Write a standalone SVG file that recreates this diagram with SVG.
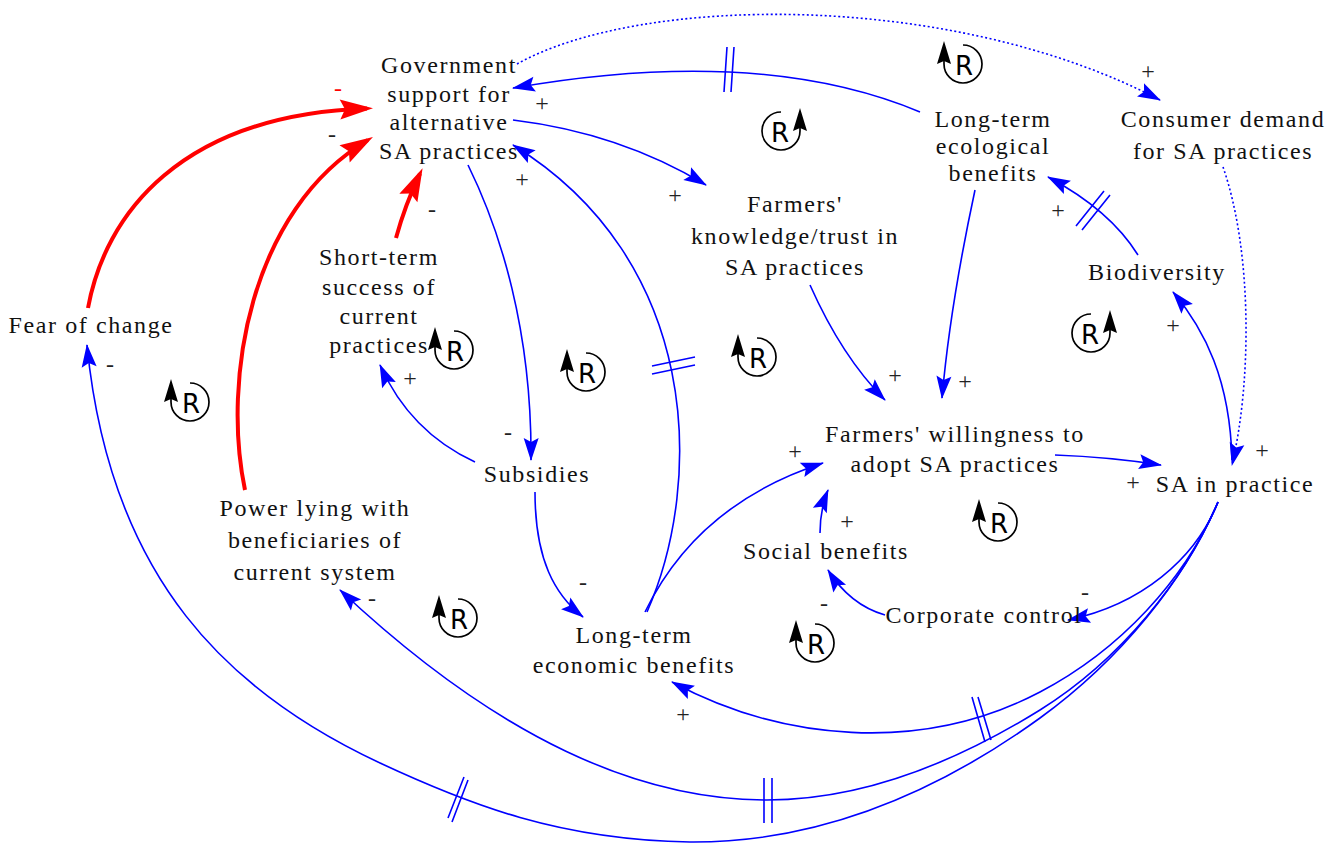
<svg xmlns="http://www.w3.org/2000/svg" width="1343" height="843" viewBox="0 0 1343 843">
<style>
.nt{font-family:"Liberation Serif","Times New Roman",serif;font-size:24px;fill:#111;text-anchor:middle;letter-spacing:1.6px}
.pl{font-family:"Liberation Serif","Times New Roman",serif;font-size:24px;fill:#222;text-anchor:middle}
.ln{fill:none;stroke:#0000ff;stroke-width:1.6}
.rd{fill:none;stroke:#ff0000;stroke-width:4}
.dt{fill:none;stroke:#0000ff;stroke-width:1.6;stroke-dasharray:2 2.5}
.dl{stroke:#0000ff;stroke-width:1.6;fill:none}
.lp{fill:none;stroke:#000;stroke-width:1.7}
.lr{font-family:"DejaVu Sans",sans-serif;font-size:26px;fill:#000;text-anchor:middle}
</style>
<defs>
<marker id="ab" markerUnits="userSpaceOnUse" markerWidth="30" markerHeight="20" refX="0" refY="0" orient="auto" overflow="visible">
<path d="M1,0 L-22,-7.5 L-18,0 L-22,7.5 Z" fill="#0000ff"/>
</marker>
<marker id="ar" markerUnits="userSpaceOnUse" markerWidth="40" markerHeight="30" refX="0" refY="0" orient="auto" overflow="visible">
<path d="M6,0 L-27,-10 L-22,0 L-27,10 Z" fill="#ff0000"/>
</marker>
<g id="loopL">
<path class="lp" d="M0,-19 A19,19 0 1,1 -19,0 L-19,-4"/>
<path d="M-19,-23 L-26,0 L-19,-3 L-12,0 Z" fill="#000"/>
<text class="lr" x="1" y="11">R</text>
</g>
<g id="loopR">
<path class="lp" d="M0,-19 A19,19 0 1,0 19,0 L19,-4"/>
<path d="M19,-23 L12,0 L19,-3 L26,0 Z" fill="#000"/>
<text class="lr" x="-1" y="11">R</text>
</g>
</defs>
<rect width="1343" height="843" fill="#fff"/>

<g id="connectors">
<path class="rd" marker-end="url(#ar)" d="M88,308 C105,215 180,115 367,108.5"/>
<path class="rd" marker-end="url(#ar)" d="M245,490 C222,380 250,210 367.8,140.1"/>
<path class="rd" marker-end="url(#ar)" d="M396,238 Q405,205 420,173.6"/>
<path class="ln" marker-end="url(#ab)" d="M513,120 Q620,133 706,185"/>
<path class="ln" marker-end="url(#ab)" d="M920,112 Q760,45 513,88"/>
<path class="ln" marker-end="url(#ab)" d="M468,165 C500,230 532,330 531,460"/>
<path class="ln" marker-end="url(#ab)" d="M647,612 C705,480 700,260 513,145"/>
<path class="ln" marker-end="url(#ab)" d="M475,462 Q410,432 380,365"/>
<path class="ln" marker-end="url(#ab)" d="M535,492 C535,560 555,595 583,617"/>
<path class="ln" marker-end="url(#ab)" d="M645,612 C680,540 740,490 823,463"/>
<path class="ln" marker-end="url(#ab)" d="M810,285 C830,330 855,370 885,400"/>
<path class="ln" marker-end="url(#ab)" d="M975,190 C960,260 948,330 942,398"/>
<path class="ln" marker-end="url(#ab)" d="M1138,255 Q1110,210 1048,177"/>
<path class="ln" marker-end="url(#ab)" d="M1232,460 C1230,380 1205,330 1173,292"/>
<path class="dt" marker-end="url(#ab)" d="M517,64 C640,-5 950,-10 1160,100"/>
<path class="dt" marker-end="url(#ab)" d="M1223,167 C1252,250 1252,380 1232,465"/>
<path class="ln" marker-end="url(#ab)" d="M1055,455 Q1110,457 1161,465"/>
<path class="ln" marker-end="url(#ab)" d="M1218,502 C1195,560 1140,605 1068,620"/>
<path class="ln" marker-end="url(#ab)" d="M885,615 Q850,605 828,570"/>
<path class="ln" marker-end="url(#ab)" d="M820,533 Q820,510 828,490"/>
<path class="ln" marker-end="url(#ab)" d="M1218,502 C1185,580 1120,650 1040,692 C920,755 780,740 672,682"/>
<path class="ln" marker-end="url(#ab)" d="M1218,502 C1185,580 1120,660 1040,710 C940,772 850,800 767,800 C640,800 500,740 340,590"/>
<path class="ln" marker-end="url(#ab)" d="M1218,502 C1185,580 1120,660 1040,718 C950,783 830,843 690,842 C560,840 470,805 380,763 C230,693 110,580 87,345"/>
<g id="delays">
<path class="dl" d="M727,47 L724,92 M734,47 L731,92"/>
<path class="dl" d="M652,366 L695,357 M652,374 L695,365"/>
<path class="dl" d="M1076,226 L1104,191 M1082,230 L1110,195"/>
<path class="dl" d="M972,697 L985,742 M978,697 L991,740"/>
<path class="dl" d="M764,778 L764,823 M772,778 L772,823"/>
<path class="dl" d="M448,818 L464,777 M452,822 L468,780"/>
</g>
<g id="polarities">
<text class="pl" x="338" y="96" style="fill:#ff0000">-</text>
<text class="pl" x="332" y="142">-</text>
<text class="pl" x="432" y="217">-</text>
<text class="pl" x="542" y="111">+</text>
<text class="pl" x="675" y="203">+</text>
<text class="pl" x="522" y="187">+</text>
<text class="pl" x="1148" y="79">+</text>
<text class="pl" x="1058" y="218">+</text>
<text class="pl" x="1173" y="333">+</text>
<text class="pl" x="895" y="383">+</text>
<text class="pl" x="965" y="389">+</text>
<text class="pl" x="410" y="386">+</text>
<text class="pl" x="795" y="459">+</text>
<text class="pl" x="847" y="529">+</text>
<text class="pl" x="1262" y="458">+</text>
<text class="pl" x="1133" y="490">+</text>
<text class="pl" x="683" y="722">+</text>
<text class="pl" x="508" y="440">-</text>
<text class="pl" x="583" y="590">-</text>
<text class="pl" x="824" y="611">-</text>
<text class="pl" x="1085" y="600">-</text>
<text class="pl" x="372" y="606">-</text>
<text class="pl" x="110" y="372">-</text>
</g>
</g>

<g id="loops">
<use href="#loopL" x="963" y="64"/>
<use href="#loopR" x="781" y="131"/>
<use href="#loopL" x="454" y="350"/>
<use href="#loopL" x="586" y="372"/>
<use href="#loopL" x="757" y="357"/>
<use href="#loopR" x="1091" y="333"/>
<use href="#loopL" x="190" y="402"/>
<use href="#loopL" x="998" y="522"/>
<use href="#loopL" x="458" y="618"/>
<use href="#loopL" x="815" y="643"/>
</g>

<g id="n-gov"><text class="nt"><tspan x="449" y="73">Government</tspan><tspan x="449" y="102">support for</tspan><tspan x="449" y="130">alternative</tspan><tspan x="449" y="159">SA practices</tspan></text></g>
<g id="n-ltecol"><text class="nt"><tspan x="993" y="127">Long-term</tspan><tspan x="993" y="154">ecological</tspan><tspan x="993" y="181">benefits</tspan></text></g>
<g id="n-consumer"><text class="nt"><tspan x="1223" y="127">Consumer demand</tspan><tspan x="1223" y="159">for SA practices</tspan></text></g>
<g id="n-knowledge"><text class="nt"><tspan x="795" y="212">Farmers'</tspan><tspan x="795" y="244">knowledge/trust in</tspan><tspan x="795" y="275">SA practices</tspan></text></g>
<g id="n-bio"><text class="nt" x="1157" y="280">Biodiversity</text></g>
<g id="n-short"><text class="nt"><tspan x="379" y="265">Short-term</tspan><tspan x="379" y="295">success of</tspan><tspan x="379" y="324">current</tspan><tspan x="379" y="353">practices</tspan></text></g>
<g id="n-fear"><text class="nt" x="91" y="333">Fear of change</text></g>
<g id="n-willing"><text class="nt"><tspan x="955" y="442">Farmers' willingness to</tspan><tspan x="955" y="472">adopt SA practices</tspan></text></g>
<g id="n-sa"><text class="nt" x="1235" y="492">SA in practice</text></g>
<g id="n-subsidies"><text class="nt" x="537" y="482">Subsidies</text></g>
<g id="n-power"><text class="nt"><tspan x="315" y="516">Power lying with</tspan><tspan x="315" y="548">beneficiaries of</tspan><tspan x="315" y="580">current system</tspan></text></g>
<g id="n-social"><text class="nt" x="826" y="559">Social benefits</text></g>
<g id="n-corp"><text class="nt" x="984" y="623">Corporate control</text></g>
<g id="n-ltecon"><text class="nt"><tspan x="634" y="643">Long-term</tspan><tspan x="634" y="673">economic benefits</tspan></text></g>
</svg>
